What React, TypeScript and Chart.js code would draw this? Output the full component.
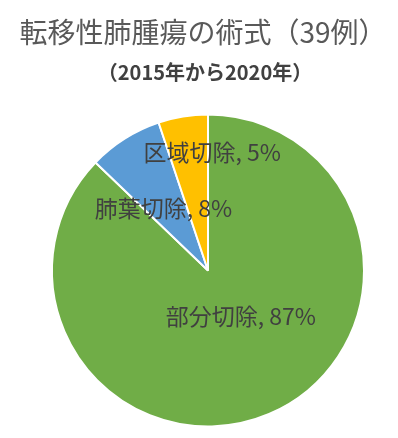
import React, { useEffect, useRef } from "react";
import { Chart, registerables } from "chart.js";

Chart.register(...registerables);

const categories = ["部分切除", "肺葉切除", "区域切除"];
const cases = [34, 3, 2];
const percentLabels = ["87%", "8%", "5%"];
const colors = ["#70AD47", "#5B9BD5", "#FFC000"];
const titleText = "転移性肺腫瘍の術式（39例）";
const subtitleText = "（2015年から2020年）";

const labelRadiusFrac = [0.34, 0.51, 0.75];
const labelShift = [[12, -3], [-2, 5], [23, -3]];

const FONT = "'Noto Sans CJK JP', 'Noto Sans', sans-serif";

const textPlugin = {
  id: "textPlugin",
  afterDraw(chart: any) {
    const ctx = chart.ctx;
    ctx.save();
    ctx.textAlign = "center";
    ctx.textBaseline = "middle";
    ctx.fillStyle = "#595959";
    ctx.font = `normal 28px ${FONT}`;
    ctx.fillText(titleText, 203, 32);
    ctx.fillStyle = "#404040";
    ctx.font = `bold 20px ${FONT}`;
    ctx.fillText(subtitleText, 205, 72);

    const meta = chart.getDatasetMeta(0);
    ctx.font = `normal 23px ${FONT}`;
    ctx.fillStyle = "#404040";
    meta.data.forEach((arc: any, i: number) => {
      const p = arc.getProps(["x", "y", "startAngle", "endAngle", "outerRadius"], true);
      const mid = (p.startAngle + p.endAngle) / 2;
      const r = p.outerRadius * labelRadiusFrac[i];
      const x = p.x + Math.cos(mid) * r + labelShift[i][0];
      const y = p.y + Math.sin(mid) * r + labelShift[i][1];
      ctx.fillText(`${categories[i]}, ${percentLabels[i]}`, x, y);
    });
    ctx.restore();
  },
};

export default function App() {
  const ref = useRef<HTMLCanvasElement>(null);
  useEffect(() => {
    document.body.style.margin = "0";
    const chart = new Chart(ref.current!, {
      type: "pie",
      data: {
        labels: categories,
        datasets: [
          {
            data: cases,
            backgroundColor: colors,
            borderColor: "#FFFFFF",
            borderWidth: 2,
          },
        ],
      },
      options: {
        animation: false,
        responsive: false,
        maintainAspectRatio: false,
        layout: { padding: { top: 112, left: 51, right: 33, bottom: 9 } },
        plugins: {
          legend: { display: false },
          tooltip: { enabled: false },
          title: { display: false },
        },
      },
      plugins: [textPlugin],
    });
    return () => chart.destroy();
  }, []);
  return (
    <div style={{ width: 398, height: 438, background: "#fff" }}>
      <canvas ref={ref} width={398} height={438} style={{ width: 398, height: 438, display: "block" }} />
    </div>
  );
}
